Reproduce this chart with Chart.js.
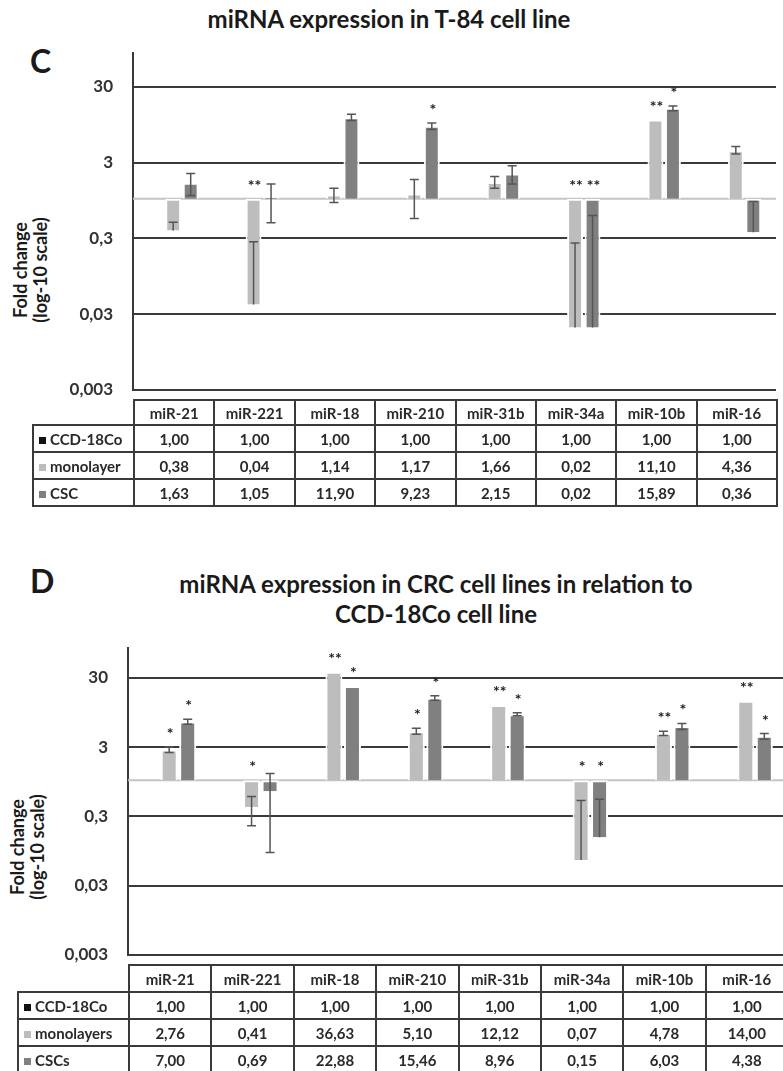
<!DOCTYPE html>
<html>
<head>
<meta charset="utf-8">
<script src="https://cdn.jsdelivr.net/npm/chart.js@4.4.1/dist/chart.umd.min.js"></script>
<style>
  html, body { margin: 0; padding: 0; background: #fff; }
  body { width: 783px; height: 1071px; overflow: hidden; position: relative; font-family: Lato, "Open Sans", sans-serif; color: #1a1a1a; }
  .abs { position: absolute; white-space: nowrap; }
  .title { font-weight: bold; font-size: 24px; line-height: 30px; text-align: center; }
  .panel { font-weight: bold; font-size: 32px; line-height: 32px; }
  .ytitle { font-weight: bold; font-size: 18px; line-height: 20px; text-align: center; transform: rotate(-90deg); }
  canvas { position: absolute; left: 0; }
  table.tbl { position: absolute; border-collapse: collapse; table-layout: fixed; font-size: 15px; font-weight: bold; color: #2a2a2a; }
  table.tbl td { border: 2px solid #3a3a3a; padding: 0; text-align: center; overflow: hidden; white-space: nowrap; }
  table.tbl td.lbl { text-align: left; padding-left: 5px; }
  table.tbl td.blank { border-top: none; border-left: none; }
  .sw { display: inline-block; width: 7px; height: 7px; margin-right: 4px; vertical-align: 1px; }
</style>
</head>
<body>

<div class="abs title" style="left:89px; top:4px; width:600px;">miRNA expression in T-84 cell line</div>
<div class="abs panel" style="left:30px; top:45px;">C</div>
<div class="abs ytitle" style="left:-50px; top:250px; width:160px;">Fold change<br>(log-10 scale)</div>
<canvas id="chartC" width="783" height="420" style="top:0px"></canvas>
<table class="tbl" id="tableC"></table>

<div class="abs panel" style="left:30px; top:565px;">D</div>
<div class="abs title" style="left:136px; top:569px; width:600px;">miRNA expression in CRC cell lines in relation to<br>CCD-18Co cell line</div>
<div class="abs ytitle" style="left:-53px; top:827px; width:160px;">Fold change<br>(log-10 scale)</div>
<canvas id="chartD" width="800" height="385" style="top:600px"></canvas>
<table class="tbl" id="tableD"></table>

<script>
// categories + axis
const categories = ["miR-21", "miR-221", "miR-18", "miR-210", "miR-31b", "miR-34a", "miR-10b", "miR-16"];
const tickValues = [0.003, 0.03, 0.3, 3, 30];
const tickLabels = ["0,003", "0,03", "0,3", "3", "30"];

// panel C - T-84
const ccdC = [1, 1, 1, 1, 1, 1, 1, 1];
const monoC = [0.38, 0.04, 1.14, 1.17, 1.66, 0.02, 11.10, 4.36];
const cscC = [1.63, 1.05, 11.90, 9.23, 2.15, 0.02, 15.89, 0.36];
const monoLoC = [0.38, 0.04, 0.89, 0.55, 1.38, 0.02, 11.10, 3.90];
const monoHiC = [0.49, 0.27, 1.38, 1.80, 1.97, 0.26, 11.10, 4.90];
const cscLoC = [1.10, 0.48, 10.8, 8.2, 1.56, 0.02, 14.5, 0.36];
const cscHiC = [2.15, 1.56, 13.0, 10.0, 2.73, 0.60, 16.8, 0.92];
const monoSigC = ["", "**", "", "", "", "**", "**", ""];
const cscSigC = ["", "", "", "*", "", "**", "*", ""];

// panel D - CRC lines vs CCD-18Co
const ccdD = [1, 1, 1, 1, 1, 1, 1, 1];
const monoD = [2.76, 0.41, 36.63, 5.10, 12.12, 0.07, 4.78, 14.00];
const cscD = [7.00, 0.69, 22.88, 15.46, 8.96, 0.15, 6.03, 4.38];
const monoLoD = [2.5, 0.22, 36.63, 4.6, 12.12, 0.07, 4.4, 14.00];
const monoHiD = [3.0, 0.58, 36.63, 5.6, 12.12, 0.51, 5.1, 14.00];
const cscLoD = [6.4, 0.09, 22.88, 14.2, 8.5, 0.15, 5.4, 3.9];
const cscHiD = [7.6, 1.25, 22.88, 16.5, 9.4, 0.53, 6.6, 4.7];
const monoSigD = ["*", "*", "**", "*", "**", "*", "**", "**"];
const cscSigD = ["*", "", "*", "*", "*", "*", "*", "*"];

const colCCD = "#111111";
const colMono = "#bdbdbd";
const colCSC = "#808080";

function fmt(v) {
  return v.toFixed(2).replace(".", ",");
}

// baseline at 1, error bars, asterisks
const extras = {
  id: "extras",
  beforeDatasetsDraw(chart) {
    const ctx = chart.ctx, a = chart.chartArea;
    const py = chart.scales.y.getPixelForValue(1);
    ctx.save();
    ctx.strokeStyle = "#c4c4c4";
    ctx.lineWidth = 2;
    ctx.beginPath();
    ctx.moveTo(a.left, py);
    ctx.lineTo(a.right, py);
    ctx.stroke();
    ctx.restore();
  },
  afterDatasetsDraw(chart) {
    const ctx = chart.ctx, y = chart.scales.y;
    const base = y.getPixelForValue(1);
    ctx.save();
    chart.data.datasets.forEach((ds, i) => {
      if (!ds.errLo) return;
      const meta = chart.getDatasetMeta(i);
      meta.data.forEach((bar, j) => {
        const v = ds.vals[j], lo = ds.errLo[j], hi = ds.errHi[j];
        const yLo = y.getPixelForValue(lo), yHi = y.getPixelForValue(hi);
        if (lo !== hi) {
          ctx.strokeStyle = "#555";
          ctx.lineWidth = 1.5;
          ctx.beginPath();
          ctx.moveTo(bar.x, yLo);
          ctx.lineTo(bar.x, yHi);
          if (lo !== v) { ctx.moveTo(bar.x - 4.5, yLo); ctx.lineTo(bar.x + 4.5, yLo); }
          if (hi !== v) { ctx.moveTo(bar.x - 4.5, yHi); ctx.lineTo(bar.x + 4.5, yHi); }
          ctx.stroke();
        }
        if (ds.sig[j]) {
          const top = Math.min(yHi, y.getPixelForValue(v), base);
          ctx.fillStyle = "#222";
          ctx.font = "bold 16px Lato";
          ctx.textAlign = "center";
          ctx.textBaseline = "alphabetic";
          ctx.fillText(ds.sig[j], bar.x + 1, top - 17 + 9);
        }
      });
    });
    ctx.restore();
  }
};

function makeChart(id, ccd, mono, csc, monoLo, monoHi, cscLo, cscHi, monoSig, cscSig, yMax, pad, catPct, barPct) {
  return new Chart(document.getElementById(id).getContext("2d"), {
    type: "bar",
    data: {
      labels: categories,
      datasets: [
        { label: "CCD-18Co", data: ccd.map(v => [1, v]), backgroundColor: colCCD, borderWidth: 0 },
        { label: "monolayer", data: mono.map(v => [1, v]), backgroundColor: colMono, borderColor: "#fff", borderWidth: 2,
          vals: mono, errLo: monoLo, errHi: monoHi, sig: monoSig },
        { label: "CSC", data: csc.map(v => [1, v]), backgroundColor: colCSC, borderColor: "#fff", borderWidth: 2,
          vals: csc, errLo: cscLo, errHi: cscHi, sig: cscSig }
      ]
    },
    options: {
      responsive: false,
      animation: false,
      layout: { autoPadding: false, padding: pad },
      datasets: { bar: { categoryPercentage: catPct, barPercentage: barPct } },
      scales: {
        x: { display: false },
        y: {
          type: "logarithmic",
          min: 0.003,
          max: yMax,
          afterBuildTicks: s => { s.ticks = tickValues.map(v => ({ value: v })); },
          afterFit: s => { s.width = pad.yWidth; },
          ticks: {
            callback: v => tickLabels[tickValues.indexOf(v)] || "",
            font: { family: "Lato", size: 17, weight: "bold" },
            color: "#333",
            padding: 20
          },
          grid: { color: "#3a3a3a", lineWidth: 2, drawTicks: false },
          border: { display: true, color: "#3a3a3a", width: 2 }
        }
      },
      plugins: { legend: { display: false }, tooltip: { enabled: false } }
    },
    plugins: [extras]
  });
}

function makeTable(id, chart, rowNames, rowColors, rowVals, left, top, headH, rowH) {
  const xs = chart.scales.x;
  const colW = (xs.right - xs.left) / categories.length;
  const firstW = xs.left - left;
  let html = '<colgroup><col style="width:' + firstW + 'px">' +
    categories.map(() => '<col style="width:' + colW + 'px">').join("") + "</colgroup>";
  html += '<tr style="height:' + headH + 'px"><td class="blank"></td>' +
    categories.map(c => "<td>" + c + "</td>").join("") + "</tr>";
  rowNames.forEach((n, i) => {
    html += '<tr style="height:' + rowH + 'px"><td class="lbl"><span class="sw" style="background:' + rowColors[i] + '"></span>' + n + "</td>" +
      rowVals[i].map(v => "<td>" + fmt(v) + "</td>").join("") + "</tr>";
  });
  const t = document.getElementById(id);
  t.innerHTML = html;
  t.style.left = left + "px";
  t.style.top = top + "px";
  t.style.width = (firstW + colW * categories.length) + "px";
}

const chartC = makeChart("chartC", ccdC, monoC, cscC, monoLoC, monoHiC, cscLoC, cscHiC, monoSigC, cscSigC, 84,
  { top: 53, bottom: 20, left: 0, right: 7, yWidth: 133 }, 0.653, 0.91);
const chartD = makeChart("chartD", ccdD, monoD, cscD, monoLoD, monoHiD, cscLoD, cscHiD, monoSigD, cscSigD, 81,
  { top: 48, bottom: 20, left: 0, right: 13, yWidth: 128 }, 0.674, 0.92);

makeTable("tableC", chartC, ["CCD-18Co", "monolayer", "CSC"], [colCCD, colMono, colCSC], [ccdC, monoC, cscC], 32, 399, 25, 27);
makeTable("tableD", chartD, ["CCD-18Co", "monolayers", "CSCs"], [colCCD, colMono, colCSC], [ccdD, monoD, cscD], 17, 964, 27, 27);
</script>
</body>
</html>
